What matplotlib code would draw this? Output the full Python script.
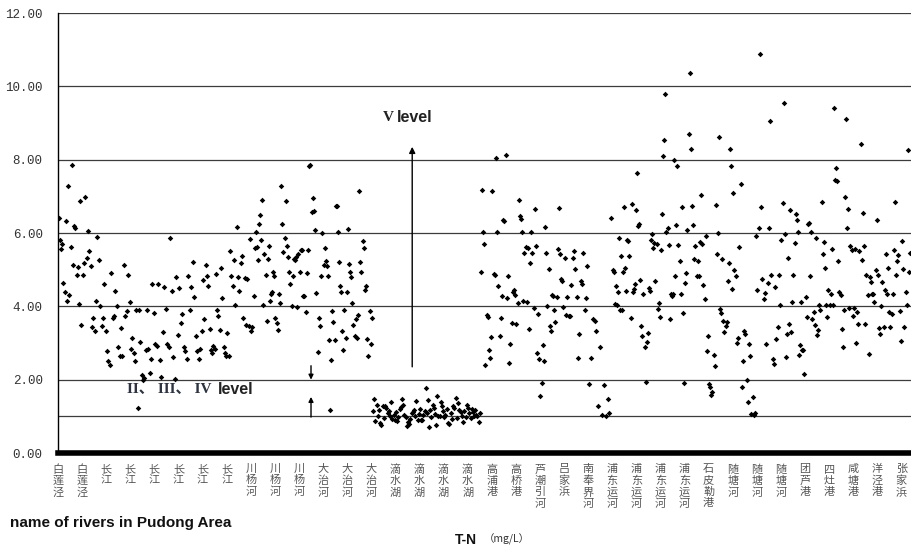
import matplotlib
matplotlib.use("Agg")
import matplotlib.pyplot as plt
import numpy as np

# River names shown under the axis, one per tick
river_labels = [
    "白莲泾", "白莲泾", "长江", "长江", "长江", "长江", "长江", "长江",
    "川杨河", "川杨河", "川杨河", "大治河", "大治河", "大治河",
    "滴水湖", "滴水湖", "滴水湖", "滴水湖", "高浦港", "高桥港", "芦潮引河",
    "吕家浜", "南奉界河", "浦东运河", "浦东运河", "浦东运河", "浦东运河",
    "石皮勒港", "随塘河", "随塘河", "随塘河", "团芦港", "四灶港", "咸塘港",
    "洋泾港", "张家浜",
]

# T-N (mg/L) samples, in sampling order, between consecutive ticks
tn_by_interval = [
    [6.41, 5.82, 5.56, 5.71, 4.64, 4.38, 6.32, 4.14, 7.29, 4.32, 5.61, 7.86, 5.14, 6.20, 6.14, 4.86, 5.06, 4.06, 6.86, 3.50],
    [4.86, 5.18, 6.98, 5.32, 6.05, 5.50, 5.10, 3.45, 3.68, 3.32, 4.14, 5.89, 5.27, 4.00, 3.47, 3.68, 4.61, 3.32],
    [2.77, 2.50, 2.41, 4.91, 3.68, 3.75, 4.42, 4.00, 2.89, 2.65, 3.41, 2.65, 5.14, 3.73, 3.86, 4.86, 4.11],
    [2.83, 3.13, 2.72, 2.52, 3.89, 1.23, 3.89, 3.04, 2.14, 2.00, 2.05, 2.80, 3.89, 2.84, 2.18, 2.56, 4.60, 3.81],
    [2.98, 2.93, 4.62, 2.54, 2.07, 3.29, 4.53, 3.93, 2.98, 2.89, 5.86, 4.42, 2.62, 2.02, 4.80, 3.23],
    [4.51, 3.55, 3.80, 2.89, 2.77, 2.57, 4.82, 3.89, 4.53, 5.20, 4.26, 3.18, 2.77, 2.56, 2.84, 3.32],
    [4.73, 3.65, 5.14, 4.82, 4.56, 3.38, 2.82, 2.73, 2.91, 2.84, 4.89, 3.91, 3.73, 3.36, 5.05, 4.23, 2.89, 2.73, 2.65],
    [3.27, 2.64, 5.50, 4.84, 4.55, 5.27, 4.03, 6.16, 4.80, 4.41, 5.18, 5.38, 3.68, 4.77, 3.50, 4.75, 3.47, 5.84],
    [3.32, 3.45, 4.27, 5.59, 6.02, 5.62, 5.27, 6.25, 6.50, 5.80, 6.91, 4.05, 5.44, 4.86, 3.59, 5.29, 5.64, 4.14, 4.35, 4.38, 4.93, 4.84],
    [3.68, 3.55, 3.36, 4.35, 4.10, 7.27, 6.25, 5.47, 5.86, 6.86, 5.65, 5.35, 4.95, 4.62, 4.00, 4.82, 5.29, 5.26, 5.35, 3.98, 5.44],
    [4.93, 5.53, 5.55, 4.27, 4.29, 3.84, 4.91, 5.55, 7.82, 7.86, 6.56, 6.95, 6.60, 6.09, 4.36, 2.75, 3.68, 3.47, 4.82, 6.00],
    [5.14, 5.59, 5.25, 5.11, 4.84, 3.09, 1.18, 2.55, 3.86, 3.56, 3.09, 6.75, 6.75, 6.02, 5.20, 4.55, 4.38, 3.32, 2.80, 3.91, 3.14, 4.38],
    [6.11, 5.16, 4.95, 4.80, 4.09, 3.50, 3.20, 3.65, 3.14, 3.77, 7.14, 5.20, 4.95, 5.77, 5.59, 4.44, 4.56, 3.11, 2.64, 3.86, 2.97],
    [3.68, 1.14, 1.47, 0.86, 1.32, 1.02, 1.18, 0.82, 0.77, 1.27, 0.95, 1.29, 1.23, 1.08, 1.14, 1.00, 1.38, 0.93, 1.05, 0.91],
    [1.11, 0.88, 0.98, 1.20, 1.25, 1.47, 1.32, 1.05, 0.98, 0.75, 0.84, 0.80, 0.93, 1.09, 1.12, 1.16, 1.02, 1.41, 0.91, 1.07],
    [1.20, 0.90, 0.89, 1.05, 1.15, 1.77, 1.09, 1.45, 0.72, 1.18, 0.98, 1.30, 1.23, 1.07, 0.77, 1.55, 1.00, 1.02, 1.38, 1.27, 1.14],
    [0.98, 1.05, 1.20, 0.82, 0.78, 1.09, 0.93, 1.28, 1.23, 1.50, 0.95, 1.36, 1.16, 1.12, 1.02, 0.84, 1.14, 0.98, 1.32],
    [1.23, 1.09, 0.95, 1.20, 1.11, 1.00, 1.16, 1.05, 1.00, 0.85, 1.10, 4.93, 7.16, 6.02, 5.71, 2.41, 3.77, 3.71, 2.80, 2.59, 3.16],
    [7.14, 4.89, 4.86, 8.05, 6.02, 4.56, 3.20, 3.68, 4.29, 6.36, 6.32, 8.14, 4.23, 4.84, 2.45, 2.98, 3.55, 4.38, 4.45, 4.32],
    [3.53, 4.09, 6.89, 6.47, 6.38, 6.02, 4.14, 5.45, 5.62, 4.11, 5.59, 3.38, 5.18, 6.02, 5.45, 3.95, 6.65, 5.65, 2.73, 3.80, 2.56],
    [1.56, 1.91, 2.95, 2.50, 6.16, 5.45, 4.00, 5.02, 3.47, 3.32, 4.32, 4.27, 3.91, 3.56, 4.25, 5.56, 6.68, 5.44, 4.75, 4.68, 3.98],
    [5.32, 3.77, 4.25, 3.73, 3.75, 4.59, 5.32, 5.50, 5.02, 4.25, 2.59, 3.25, 4.68, 4.62, 5.45, 3.89, 4.23, 5.09],
    [1.89, 2.59, 3.65, 3.59, 3.32, 1.27, 2.89, 1.05, 1.86, 1.00, 1.47, 1.10, 6.41],
    [5.00, 4.93, 4.07, 4.56, 4.05, 4.38, 5.86, 3.91, 5.36, 3.90, 4.93, 6.71, 5.05, 4.42, 5.80, 5.77, 5.38, 3.67, 6.80, 4.39, 4.46, 4.60, 6.63],
    [7.63, 6.20, 6.25, 4.72, 3.47, 3.18, 4.33, 2.88, 1.95, 3.03, 3.28, 4.50, 4.42, 5.82, 5.98, 5.59, 5.73, 4.69, 5.71, 3.94, 4.10, 3.72],
    [5.55, 6.52, 8.10, 8.55, 9.78, 6.02, 6.14, 5.68, 3.65, 4.33, 4.28, 4.33, 7.99, 4.84, 6.23, 7.83, 5.68, 5.23, 4.33, 6.72, 3.83, 1.91],
    [4.64, 4.91, 6.07, 8.70, 10.37, 8.28, 6.74, 6.23, 5.29, 5.64, 4.84, 5.23, 4.82, 5.75, 7.04, 5.71, 4.57, 4.21, 5.93, 2.79, 3.19],
    [1.88, 1.79, 1.57, 1.66, 2.67, 2.38, 6.77, 5.44, 6.00, 8.61, 3.94, 3.81, 5.29, 3.60, 3.30, 3.47, 3.56, 4.69, 5.17, 8.28, 7.83, 4.46],
    [7.09, 4.99, 4.82, 3.00, 3.15, 5.62, 7.34, 1.79, 2.52, 3.33, 3.24, 2.00, 1.38, 2.97, 2.65, 1.07, 1.52, 1.04, 1.10, 5.91],
    [4.44, 6.15, 10.89, 6.71, 4.75, 4.21, 4.36, 2.98, 4.64, 6.15, 9.05, 4.85, 2.57, 2.44, 4.53, 3.12, 3.45, 4.85, 4.03],
    [5.80, 6.82, 9.55, 5.98, 2.62, 3.25, 5.33, 3.51, 6.64, 3.30, 4.12, 4.85, 5.73, 6.51, 6.36, 6.03, 2.66, 2.94, 4.12, 2.80, 2.80, 2.16],
    [4.25, 3.71, 6.24, 6.26, 4.82, 6.03, 3.66, 3.84, 3.48, 5.87, 3.21, 3.35, 4.05, 3.91, 6.85, 5.44, 5.75, 5.05, 4.03, 3.71, 4.45],
    [4.03, 4.33, 5.57, 4.05, 9.42, 7.44, 7.78, 7.42, 5.24, 4.39, 4.30, 3.39, 2.89, 3.91, 6.98, 9.12, 6.15, 6.66, 3.96, 5.64, 5.53, 3.73],
    [3.96, 5.57, 3.00, 3.85, 3.51, 5.51, 8.42, 5.27, 6.55, 5.64, 3.51, 4.85, 4.30, 2.71, 4.80, 4.66, 4.33, 4.35, 4.12, 5.00, 6.36],
    [4.85, 3.42, 3.25, 4.00, 4.66, 3.45, 4.44, 5.42, 4.35, 5.05, 3.85, 3.45, 3.80, 4.35, 5.53, 6.85, 4.85, 5.24, 5.39, 3.87, 3.05],
    [5.78, 5.03, 3.45, 4.39, 4.05, 8.27, 4.94, 5.45],
]

y_ticks = [0, 2, 4, 6, 8, 10, 12]
class_iii_limit = 1.0

plt.rcParams['font.family'] = ['Noto Sans CJK SC', 'DejaVu Sans']

W, H = 911, 553
fig = plt.figure(figsize=(W / 100, H / 100), dpi=100)
ax = fig.add_axes([58 / W, 100 / H, 853 / W, 440 / H])

x_max = 35.4
ax.set_xlim(0, x_max)
ax.set_ylim(0, 12)

# horizontal reference lines
for y in y_ticks[1:]:
    ax.axhline(y, color='#3c3c3c', lw=0.9, zorder=1)
ax.axhline(class_iii_limit, color='#3c3c3c', lw=0.9, zorder=1)
ax.axhline(0, color='black', lw=4.0, zorder=3, clip_on=False)

# sample points: spread evenly inside each tick interval
for k, vals in enumerate(tn_by_interval):
    n = len(vals)
    span = min(1.0, x_max - k)
    xs = k + (np.arange(n) + 0.5) / n * span
    ax.scatter(xs, vals, marker='D', s=8, color='black', linewidths=0, zorder=4)

for side in ['top', 'right', 'bottom']:
    ax.spines[side].set_visible(False)
ax.spines['left'].set_color('black')
ax.spines['left'].set_linewidth(1.0)

ax.set_yticks(y_ticks)
ax.set_yticklabels([f"{v:.2f}" for v in y_ticks], family='Liberation Mono',
                   fontsize=9, color='#333333')
ax.tick_params(axis='y', length=0, pad=11)

ax.set_xticks(range(len(river_labels)))
ax.set_xticklabels(["\n".join(name) for name in river_labels], fontsize=8,
                   color='#555555', linespacing=1.15, va='top')
ax.tick_params(axis='x', length=0, pad=8)

# class annotations
ax.text(13.72, 9.16, "V", family='Liberation Serif', fontweight='bold',
        fontsize=11, ha='center', va='center', color='#222222')
ax.text(14.07, 9.16, "level", family='Liberation Sans', fontweight='bold',
        fontsize=11.5, ha='left', va='center', color='#222222')
ax.annotate('', xy=(14.7, 8.35), xytext=(14.7, 2.35),
            arrowprops=dict(arrowstyle='-|>', color='black', lw=1.0,
                            mutation_scale=9, shrinkA=0, shrinkB=0))

ax.text(2.88, 1.72, "II、 III、 IV", family=['Liberation Serif', 'Noto Sans CJK SC'],
        fontweight='bold', fontsize=11, ha='left', va='center', color='#2d3340')
ax.text(6.65, 1.72, "level", family='Liberation Sans', fontweight='bold',
        fontsize=11.5, ha='left', va='center', color='#222222')
ax.annotate('', xy=(10.5, 2.0), xytext=(10.5, 2.38),
            arrowprops=dict(arrowstyle='-|>', color='black', lw=1.0,
                            mutation_scale=7, shrinkA=0, shrinkB=0))
ax.annotate('', xy=(10.5, 1.53), xytext=(10.5, 0.98),
            arrowprops=dict(arrowstyle='-|>', color='black', lw=1.0,
                            mutation_scale=7, shrinkA=0, shrinkB=0))

# axis titles
fig.text(10 / W, 1 - 523 / H, "name of rivers in Pudong Area",
         family='Liberation Sans', fontweight='bold', fontsize=11,
         ha='left', va='center', color='#111111')
fig.text(455 / W, 1 - 540 / H, "T-N", family='Liberation Sans',
         fontweight='bold', fontsize=10, ha='left', va='center', color='#111111')
fig.text(484 / W, 1 - 539 / H, "（mg/L）", family='Noto Sans CJK SC',
         fontsize=7.5, ha='left', va='center', color='#333333')

fig.savefig("out.png", dpi=100, facecolor='white')
